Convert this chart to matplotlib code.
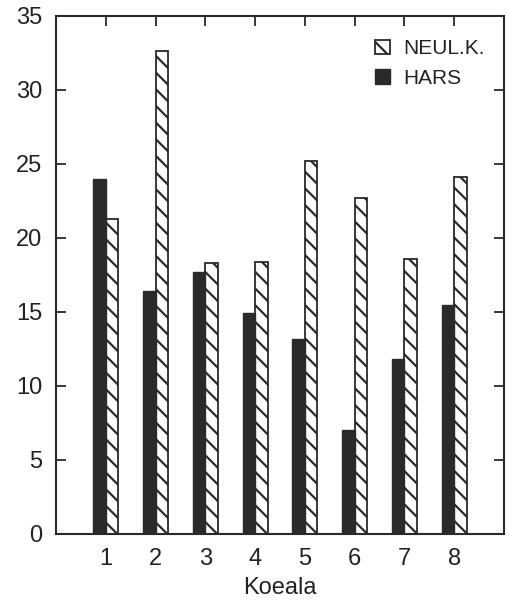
import numpy as np
import matplotlib.pyplot as plt

plt.rcParams['font.family'] = ['Liberation Sans', 'DejaVu Sans']
plt.rcParams['hatch.linewidth'] = 1.6

koeala = [1, 2, 3, 4, 5, 6, 7, 8]
hars = [24.0, 16.4, 17.7, 14.9, 13.2, 7.0, 11.8, 15.5]
neul_k = [21.3, 32.6, 18.3, 18.4, 25.2, 22.7, 18.6, 24.1]

x = np.array(koeala)
w = 0.25

fig = plt.figure(figsize=(5.10, 6.01), dpi=100)
ax = fig.add_axes([0.110, 0.1115, 0.878, 0.862])

ink = '#2a2a2a'
b_neul = ax.bar(x + w / 2, neul_k, w, color='white', edgecolor=ink,
                hatch='\\\\', linewidth=1.3, label='NEUL.K.')
b_hars = ax.bar(x - w / 2, hars, w, color=ink, edgecolor=ink,
                linewidth=1.0, label='HARS')

ax.set_xlim(0, 9)
ax.set_ylim(0, 35)
ax.set_xticks(koeala)
ax.set_yticks(np.arange(0, 36, 5))
ax.tick_params(direction='in', length=7, width=1.3, color=ink,
               labelsize=17, pad=10, top=True, right=True,
               labelcolor='#222222')
ax.set_xlabel('Koeala', fontsize=17, color='#222222', labelpad=5)
for s in ax.spines.values():
    s.set_linewidth(1.5)
    s.set_color(ink)

leg = ax.legend(handles=[b_neul, b_hars], loc='upper left',
                bbox_to_anchor=(0.712, 0.955), frameon=False, fontsize=15,
                borderpad=0, borderaxespad=0,
                handlelength=0.7, handleheight=0.7, handletextpad=0.65,
                labelspacing=0.5)
for t in leg.get_texts():
    t.set_color('#222222')

fig.savefig('out.png', dpi=100)
